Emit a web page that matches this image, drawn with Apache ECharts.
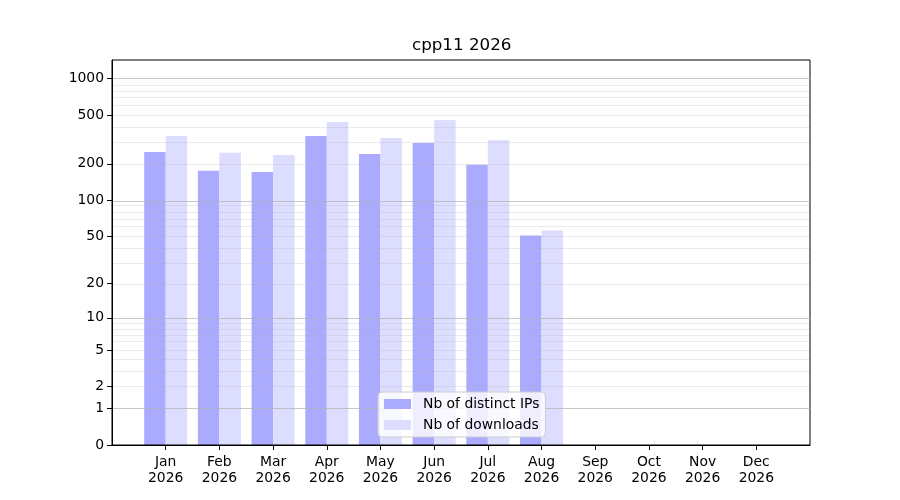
<!DOCTYPE html>
<html>
<head>
<meta charset="utf-8">
<title>cpp11 2026</title>
<script src="https://cdn.jsdelivr.net/npm/echarts@6/dist/echarts.min.js"></script>
<style>
	html, body { margin: 0; padding: 0; background: #fff; }
	#chart { width: 900px; height: 500px; }
</style>
</head>
<body>
<div id="chart"></div>
<script>
var months = ['Jan', 'Feb', 'Mar', 'Apr', 'May', 'Jun', 'Jul', 'Aug', 'Sep', 'Oct', 'Nov', 'Dec'];
var year = '2026';
var distinctIPs = [250, 175, 171, 339, 241, 297, 196, 51, 0, 0, 0, 0];
var downloads = [339, 246, 236, 441, 326, 458, 314, 56, 0, 0, 0, 0];
var yLabelTicks = [0, 1, 2, 5, 10, 20, 50, 100, 200, 500, 1000];
var yMajorGrid = [1, 10, 100, 1000];
var yMinorGrid = [2, 3, 4, 5, 6, 7, 8, 9, 20, 30, 40, 50, 60, 70, 80, 90,
	200, 300, 400, 500, 600, 700, 800, 900];

// y scale is log10(1 + v), like the source plot
function fwd(v){ return Math.log(1 + v) / Math.LN10; }
function inv(t){ return Math.round(Math.pow(10, t) - 1); }

var yMax = 3.153;
var font = 'DejaVu Sans';

// one empty slot each side so the months sit one step in from the frame
var cats = [''];
for(var i = 0; i < months.length; i++){
	cats.push(months[i] + '\n' + year);
}
cats.push('');

function padded(arr){
	var out = [null];
	for(var i = 0; i < arr.length; i++){
		out.push(fwd(arr[i]));
	}
	out.push(null);
	return out;
}

// empty series whose markLines are the grid, so it sits over the bars
function gridSeries(name, values, color, z){
	return {
		name: name,
		type: 'line',
		data: [],
		z: z,
		silent: true,
		markLine: {
			silent: true,
			symbol: ['none', 'none'],
			z: z,
			animation: false,
			label: { show: false },
			emphasis: { disabled: true },
			lineStyle: { type: 'solid', width: 1, color: color },
			data: values.map(function(v){ return { yAxis: fwd(v) }; })
		}
	};
}

var option = {
	animation: false,
	backgroundColor: '#fff',
	textStyle: { fontFamily: font },
	title: {
		text: 'cpp11 2026',
		left: 412,
		top: 37,
		padding: 0,
		textStyle: { fontFamily: font, fontSize: 16.7, fontWeight: 'normal', color: '#000' }
	},
	legend: {
		orient: 'vertical',
		left: 378,
		top: 392,
		padding: [5, 6, 5, 6],
		itemWidth: 27,
		itemHeight: 10,
		itemGap: 7,
		icon: 'rect',
		backgroundColor: 'rgba(255,255,255,0.8)',
		borderColor: '#cccccc',
		borderWidth: 1,
		borderRadius: 4,
		z: 20,
		textStyle: { fontFamily: font, fontSize: 13.9, color: '#000', lineHeight: 14, padding: [0, 0, 0, 7] },
		data: ['Nb of distinct IPs', 'Nb of downloads']
	},
	grid: {
		left: 112,
		right: 90,
		top: 60,
		bottom: 55,
		show: true,
		borderColor: '#000',
		borderWidth: 1,
		z: 6
	},
	xAxis: {
		type: 'category',
		data: cats,
		boundaryGap: false,
		axisLine: { show: true, lineStyle: { color: '#000', width: 1 } },
		axisTick: {
			show: true,
			length: 5,
			inside: false,
			lineStyle: { color: '#000' },
			interval: function(index){ return index > 0 && index < cats.length - 1; }
		},
		axisLabel: {
			interval: 0,
			margin: 10,
			fontFamily: font,
			fontSize: 13.9,
			lineHeight: 15.3,
			color: '#000'
		},
		splitLine: { show: false }
	},
	yAxis: {
		type: 'value',
		min: 0,
		max: yMax,
		position: 'left',
		z: 8,
		axisLine: { show: true, lineStyle: { color: '#000', width: 1 } },
		axisTick: { show: true, length: 5, inside: false, lineStyle: { color: '#000' }, customValues: yLabelTicks.map(fwd) },
		axisLabel: {
			customValues: yLabelTicks.map(fwd),
			margin: 8,
			fontFamily: font,
			fontSize: 13.9,
			color: '#000',
			formatter: function(v){ return String(inv(v)); }
		},
		splitLine: { show: false }
	},
	series: [
		{
			name: 'Nb of distinct IPs',
			type: 'bar',
			barWidth: 21.5,
			barGap: '0%',
			z: 2,
			itemStyle: { color: '#aaaaff' },
			data: padded(distinctIPs)
		},
		{
			name: 'Nb of downloads',
			type: 'bar',
			barWidth: 21.5,
			barGap: '0%',
			z: 2,
			itemStyle: { color: '#ddddff' },
			data: padded(downloads)
		},
		gridSeries('minor grid', yMinorGrid, 'rgba(176,176,176,0.25)', 5),
		gridSeries('major grid', yMajorGrid, 'rgba(176,176,176,0.7)', 6)
	]
};

var myChart = echarts.init(document.getElementById('chart'));
myChart.setOption(option);
</script>
</body>
</html>
